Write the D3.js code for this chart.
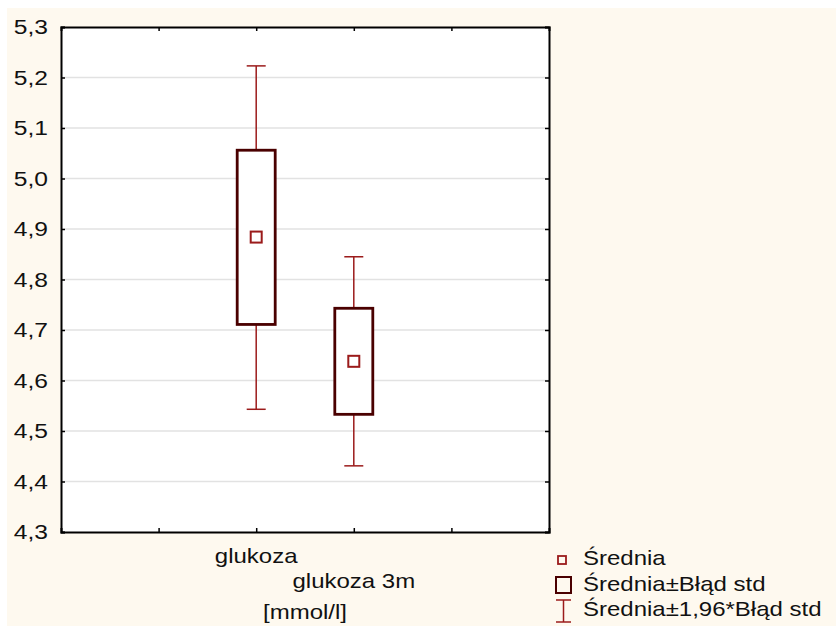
<!DOCTYPE html>
<html>
<head>
<meta charset="utf-8">
<script src="https://cdn.jsdelivr.net/npm/d3@7"></script>
<style>
  body { margin: 0; background: #fff; }
  svg { display: block; font-family: Arial, "Liberation Sans", sans-serif; }
</style>
</head>
<body>
<div id="chart"></div>
<script>
// values
const categories = ["glukoza", "glukoza 3m"];
const slots = [2, 3];               // category slot on the 0..5 x range
const means = [4.884, 4.638];
const seLow = [4.711, 4.533];
const seHigh = [5.056, 4.743];
const ciLow = [4.543, 4.431];
const ciHigh = [5.223, 4.845];
const yTicks = [4.3, 4.4, 4.5, 4.6, 4.7, 4.8, 4.9, 5.0, 5.1, 5.2, 5.3];
const xTicks = [1, 2, 3, 4];
const legendLabels = ["Średnia", "Średnia±Błąd std", "Średnia±1,96*Błąd std"];

const width = 836, height = 626;
const plot = { left: 61, right: 549, top: 27, bottom: 532 };
const stretch = 1.2;   // the original text is drawn a bit wide

const boxColor = "#4a0000";
const errColor = "#9b1b1b";

const data = categories.map((c, i) => ({
  name: c, slot: slots[i], mean: means[i],
  seLow: seLow[i], seHigh: seHigh[i], ciLow: ciLow[i], ciHigh: ciHigh[i]
}));

const svg = d3.select("#chart").append("svg")
  .attr("width", width)
  .attr("height", height);

svg.append("rect")
  .attr("x", 7).attr("y", 8)
  .attr("width", width - 7).attr("height", height - 8)
  .attr("fill", "#fef9ef");

const x = d3.scaleLinear().domain([0, 5]).range([plot.left, plot.right]);
const y = d3.scaleLinear().domain([4.3, 5.3]).range([plot.bottom, plot.top]);

svg.append("rect")
  .attr("x", plot.left).attr("y", plot.top)
  .attr("width", plot.right - plot.left).attr("height", plot.bottom - plot.top)
  .attr("fill", "#fff");

// grid
svg.append("g")
  .selectAll("line")
  .data(yTicks.slice(1, -1))
  .join("line")
  .attr("x1", plot.left).attr("x2", plot.right)
  .attr("y1", d => y(d)).attr("y2", d => y(d))
  .attr("stroke", "#e2e2e2")
  .attr("stroke-width", 1.5);

const fmt = d => d3.format(".1f")(d).replace(".", ",");

// axes, ticks pointing inward
const axLeft = svg.append("g")
  .attr("transform", `translate(${plot.left},0)`)
  .call(d3.axisLeft(y).tickValues(yTicks).tickFormat(fmt).tickSize(-4).tickPadding(14));
const axRight = svg.append("g")
  .attr("transform", `translate(${plot.right},0)`)
  .call(d3.axisRight(y).tickValues(yTicks).tickFormat("").tickSize(-4));
const axBottom = svg.append("g")
  .attr("transform", `translate(0,${plot.bottom})`)
  .call(d3.axisBottom(x).tickValues(xTicks).tickFormat("").tickSize(-4));
const axTop = svg.append("g")
  .attr("transform", `translate(0,${plot.top})`)
  .call(d3.axisTop(x).tickValues(xTicks).tickFormat("").tickSize(-4));

[axLeft, axRight, axBottom, axTop].forEach(g => {
  g.select(".domain").attr("stroke", "#000").attr("stroke-width", 2);
  g.selectAll(".tick line").attr("stroke", "#000").attr("stroke-width", 1.5);
});
axLeft.selectAll(".tick text")
  .attr("font-size", "20.5px")
  .attr("fill", "#111")
  .attr("font-family", "Arial, 'Liberation Sans', sans-serif")
  .attr("x", -13 / stretch)
  .attr("transform", `scale(${stretch},1)`);

// whiskers (mean ± 1.96 SE)
const capW = 19, boxW = 38, meanW = 11;
const g = svg.append("g");
g.selectAll("line.stem")
  .data(data)
  .join("line")
  .attr("class", "stem")
  .attr("x1", d => x(d.slot)).attr("x2", d => x(d.slot))
  .attr("y1", d => y(d.ciLow)).attr("y2", d => y(d.ciHigh))
  .attr("stroke", errColor).attr("stroke-width", 1.5);
["ciLow", "ciHigh"].forEach(k => {
  g.selectAll("line." + k)
    .data(data)
    .join("line")
    .attr("class", k)
    .attr("x1", d => x(d.slot) - capW / 2).attr("x2", d => x(d.slot) + capW / 2)
    .attr("y1", d => y(d[k])).attr("y2", d => y(d[k]))
    .attr("stroke", errColor).attr("stroke-width", 1.5);
});

// boxes (mean ± SE)
g.selectAll("rect.box")
  .data(data)
  .join("rect")
  .attr("class", "box")
  .attr("x", d => x(d.slot) - boxW / 2)
  .attr("y", d => y(d.seHigh))
  .attr("width", boxW)
  .attr("height", d => y(d.seLow) - y(d.seHigh))
  .attr("fill", "#fff")
  .attr("stroke", boxColor)
  .attr("stroke-width", 2.8);

// means
g.selectAll("rect.mean")
  .data(data)
  .join("rect")
  .attr("class", "mean")
  .attr("x", d => x(d.slot) - meanW / 2)
  .attr("y", d => y(d.mean) - meanW / 2)
  .attr("width", meanW).attr("height", meanW)
  .attr("fill", "#fff")
  .attr("stroke", errColor)
  .attr("stroke-width", 2);

// category labels, staggered
svg.selectAll("text.cat")
  .data(data)
  .join("text")
  .attr("class", "cat")
  .attr("transform", (d, i) => `translate(${x(d.slot)},${563 + i * 25}) scale(${stretch},1)`)
  .attr("text-anchor", "middle")
  .attr("font-size", "20px")
  .attr("fill", "#111")
  .text(d => d.name);

svg.append("text")
  .attr("transform", `translate(${(plot.left + plot.right) / 2},619) scale(${stretch},1)`)
  .attr("text-anchor", "middle")
  .attr("font-size", "20px")
  .attr("fill", "#111")
  .text("[mmol/l]");

// legend
const leg = svg.append("g").attr("transform", "translate(555,0)");
leg.append("rect")
  .attr("x", 3).attr("y", 556).attr("width", 8).attr("height", 8)
  .attr("fill", "none").attr("stroke", errColor).attr("stroke-width", 1.8);
leg.append("rect")
  .attr("x", 1).attr("y", 577).attr("width", 15).attr("height", 16)
  .attr("fill", "none").attr("stroke", boxColor).attr("stroke-width", 2);
leg.append("line")
  .attr("x1", 8.5).attr("x2", 8.5).attr("y1", 600).attr("y2", 622)
  .attr("stroke", errColor).attr("stroke-width", 1.5);
leg.append("line")
  .attr("x1", 1).attr("x2", 16).attr("y1", 600).attr("y2", 600)
  .attr("stroke", errColor).attr("stroke-width", 1.5);
leg.append("line")
  .attr("x1", 1).attr("x2", 16).attr("y1", 622).attr("y2", 622)
  .attr("stroke", errColor).attr("stroke-width", 1.5);
leg.selectAll("text")
  .data(legendLabels)
  .join("text")
  .attr("transform", (d, i) => `translate(28,${565 + i * 25.5}) scale(${stretch},1)`)
  .attr("font-size", "20px")
  .attr("fill", "#111")
  .text(d => d);
</script>
</body>
</html>
